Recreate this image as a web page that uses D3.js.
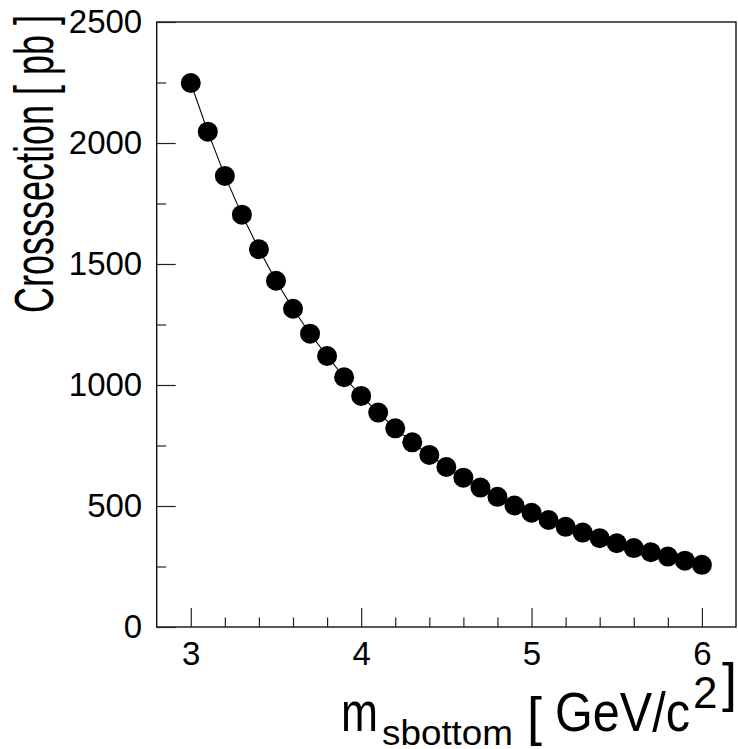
<!DOCTYPE html>
<html>
<head>
<meta charset="utf-8">
<script src="https://cdn.jsdelivr.net/npm/d3@7"></script>
<style>
  body { margin: 0; background: #fff; }
  text { font-family: "Liberation Sans", Arial, Helvetica, sans-serif; }
</style>
</head>
<body>
<svg id="chart" width="738" height="749"></svg>
<script>
// sbottom mass points [GeV/c^2]
var masses = [3.0, 3.1, 3.2, 3.3, 3.4, 3.5, 3.6, 3.7, 3.8, 3.9,
              4.0, 4.1, 4.2, 4.3, 4.4, 4.5, 4.6, 4.7, 4.8, 4.9,
              5.0, 5.1, 5.2, 5.3, 5.4, 5.5, 5.6, 5.7, 5.8, 5.9, 6.0];
// crosssection [pb]
var xsec = [2248, 2047, 1864, 1704, 1561, 1431, 1315, 1212, 1120, 1032,
            955, 886, 821, 763, 711, 661, 617, 576, 538, 502,
            472, 442, 414, 390, 367, 346, 326, 309, 291, 274, 257];

var xTicks = [3, 4, 5, 6];
var xMinor = [3.2, 3.4, 3.6, 3.8, 4.2, 4.4, 4.6, 4.8, 5.2, 5.4, 5.6, 5.8];
var yTicks = [0, 500, 1000, 1500, 2000, 2500];
var yMinor = [250, 750, 1250, 1750, 2250];

var svg = d3.select('#chart');

// frame edges (don't use "top", it's window.top)
var fL = 156.7, fR = 736, fT = 22, fB = 627;

var x = d3.scaleLinear().domain([2.8, 6.2]).range([fL, fR]);
var y = d3.scaleLinear().domain([0, 2500]).range([fB, fT]);

// frame
svg.append('rect')
  .attr('x', fL).attr('y', fT)
  .attr('width', fR - fL).attr('height', fB - fT)
  .attr('fill', 'none')
  .attr('stroke', '#000')
  .attr('stroke-width', 1.3);

// x axis, ticks point inward
var xAxis = svg.append('g')
  .attr('transform', 'translate(0,' + fB + ')')
  .call(d3.axisBottom(x).tickValues(xTicks).tickSize(-19).tickPadding(15)
        .tickFormat(d3.format('d')));
xAxis.append('g')
  .call(d3.axisBottom(x).tickValues(xMinor).tickSize(-9.5).tickFormat(''));

var yAxis = svg.append('g')
  .attr('transform', 'translate(' + fL + ',0)')
  .call(d3.axisLeft(y).tickValues(yTicks).tickSize(-19).tickPadding(14.5)
        .tickFormat(d3.format('d')));
yAxis.append('g')
  .call(d3.axisLeft(y).tickValues(yMinor).tickSize(-9.5).tickFormat(''));

svg.selectAll('.domain').remove();
svg.selectAll('.tick line').attr('stroke', '#222').attr('stroke-width', 1.2);
svg.selectAll('.tick text')
  .attr('font-size', 33)
  .attr('font-family', '"Liberation Sans", Arial, sans-serif')
  .attr('fill', '#000');

// connecting line
var line = d3.line()
  .x(function(d, i) { return x(masses[i]); })
  .y(function(d) { return y(d); });

svg.append('path')
  .datum(xsec)
  .attr('d', line)
  .attr('fill', 'none')
  .attr('stroke', '#000')
  .attr('stroke-width', 1.1);

// markers
svg.selectAll('circle.pt')
  .data(xsec)
  .enter().append('circle')
  .attr('class', 'pt')
  .attr('cx', function(d, i) { return x(masses[i]); })
  .attr('cy', function(d) { return y(d); })
  .attr('r', 10)
  .attr('fill', '#000');

// y title (ROOT draws it squeezed)
svg.append('text')
  .attr('transform', 'translate(53,313) rotate(-90)')
  .attr('font-size', 55)
  .attr('textLength', 298)
  .attr('lengthAdjust', 'spacingAndGlyphs')
  .text('Crosssection [ pb ]');

// x title pieces: m_{sbottom} [ GeV/c^{2} ]
var xt = svg.append('g');
xt.append('text').attr('x', 341).attr('y', 731).attr('font-size', 56)
  .attr('textLength', 37).attr('lengthAdjust', 'spacingAndGlyphs').text('m');
xt.append('text').attr('x', 382).attr('y', 745).attr('font-size', 35)
  .attr('textLength', 131).attr('lengthAdjust', 'spacingAndGlyphs').text('sbottom');
xt.append('text').attr('x', 527).attr('y', 735).attr('font-size', 54).text('[');
xt.append('text').attr('x', 555).attr('y', 731).attr('font-size', 56)
  .attr('textLength', 135).attr('lengthAdjust', 'spacingAndGlyphs').text('GeV/c');
xt.append('text').attr('x', 693).attr('y', 708).attr('font-size', 44).text('2');
xt.append('text').attr('x', 722).attr('y', 701).attr('font-size', 54).text(']');
</script>
</body>
</html>
